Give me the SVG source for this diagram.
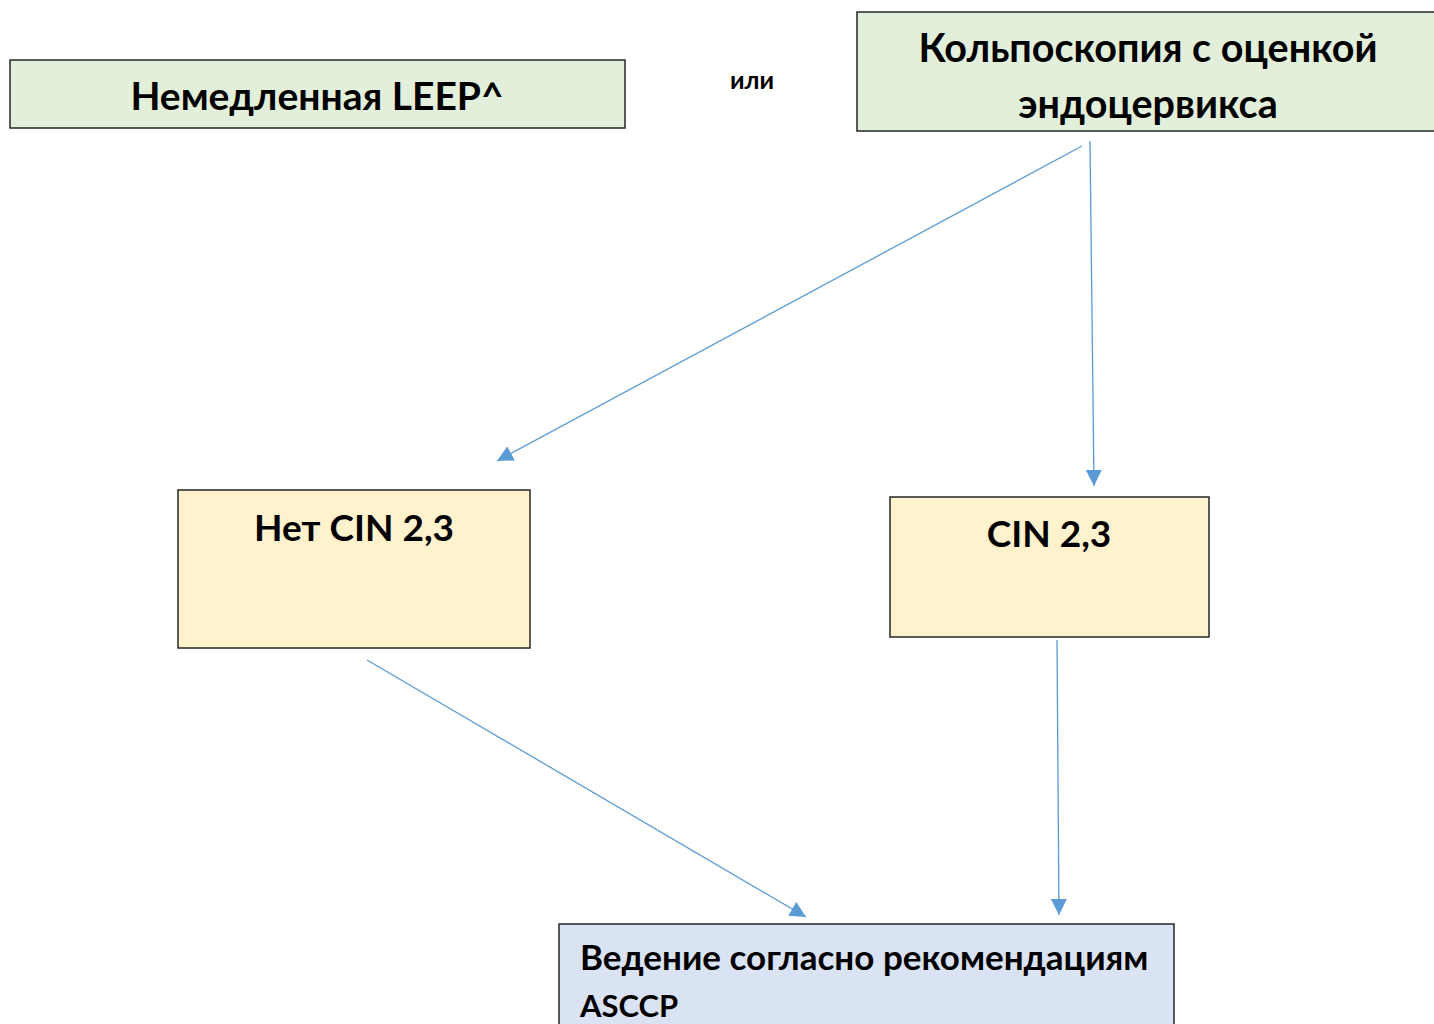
<svg xmlns="http://www.w3.org/2000/svg" width="1434" height="1024" viewBox="0 0 1434 1024">
  <style>
    .box { stroke: #262626; stroke-width: 1.5; }
    .green { fill: #e2efda; }
    .yellow { fill: #fff2cc; }
    .blue { fill: #dae3f3; }
    .t { font-family: "Lato", "Liberation Sans", sans-serif; font-weight: bold; fill: #000; }
    .conn { stroke: #5b9bd5; stroke-width: 1.3; fill: none; marker-end: url(#arrow); }
  </style>
  <defs>
    <marker id="arrow" viewBox="0 0 10 10" refX="10" refY="5" markerWidth="16" markerHeight="16" markerUnits="userSpaceOnUse" orient="auto">
      <path d="M0,0 L10,5 L0,10 Z" fill="#5b9bd5"/>
    </marker>
    <clipPath id="clipColpo">
      <rect x="857" y="12" width="577" height="119"/>
    </clipPath>
  </defs>

  <g id="node-leep">
    <rect class="box green" x="10" y="60" width="615" height="68"/>
    <text class="t" x="317" y="110" font-size="39" text-anchor="middle">Немедленная LEEP^</text>
  </g>

  <g id="label-or">
    <text class="t" x="752" y="89" font-size="25" text-anchor="middle">или</text>
  </g>

  <g id="node-colposcopy">
    <rect class="box green" x="857" y="12" width="590" height="119"/>
    <g clip-path="url(#clipColpo)">
      <text class="t" x="1148" y="62" font-size="39.5" text-anchor="middle">Кольпоскопия с оценкой</text>
      <text class="t" x="1148" y="118" font-size="39.5" text-anchor="middle">эндоцервикса</text>
    </g>
  </g>

  <g id="node-no-cin">
    <rect class="box yellow" x="178" y="490" width="352" height="158"/>
    <text class="t" x="354" y="541" font-size="37" text-anchor="middle">Нет CIN 2,3</text>
  </g>

  <g id="node-cin">
    <rect class="box yellow" x="890" y="497" width="319" height="140"/>
    <text class="t" x="1049" y="547" font-size="37" text-anchor="middle">CIN 2,3</text>
  </g>

  <g id="node-asccp">
    <rect class="box blue" x="559" y="924" width="615" height="110"/>
    <text class="t" x="580" y="970" font-size="35">Ведение согласно рекомендациям</text>
    <text class="t" x="580" y="1017" font-size="31">ASCCP</text>
  </g>

  <g id="connectors">
    <line class="conn" x1="1082" y1="146" x2="497" y2="461"/>
    <line class="conn" x1="1090" y1="141" x2="1094" y2="486"/>
    <line class="conn" x1="367" y1="660" x2="806" y2="917"/>
    <line class="conn" x1="1057" y1="640" x2="1059" y2="915"/>
  </g>
</svg>
